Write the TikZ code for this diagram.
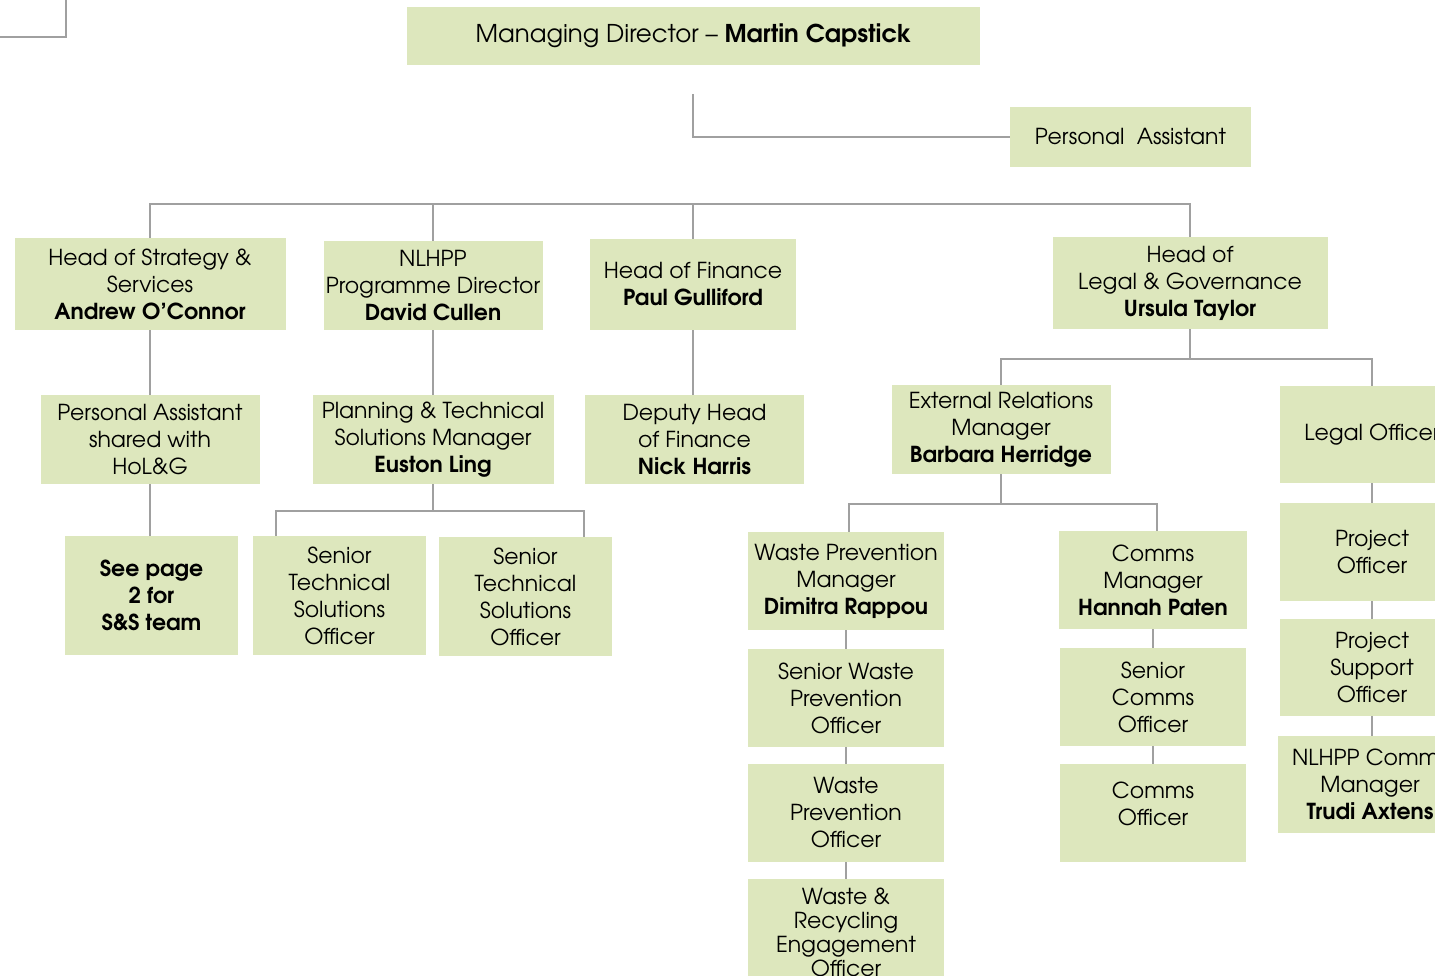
\documentclass[tikz,border=0pt]{standalone}
\usepackage{fontspec}
\IfFontExistsTF{TeX Gyre Adventor}{\setmainfont{TeX Gyre Adventor}}{\setmainfont{Poppins}}
\usetikzlibrary{backgrounds}
\definecolor{boxfill}{RGB}{221,231,189}
\definecolor{linegray}{RGB}{160,160,160}
\begin{document}
\begin{tikzpicture}[x=1pt,y=-1pt,
  box/.style={fill=boxfill, inner sep=0pt, align=center, font=\fontsize{22}{27}\selectfont},
  bx/.style 2 args={minimum width=#1, minimum height=#2},
  conn/.style={draw=linegray, line width=1.3pt}]
\useasboundingbox (0,0) rectangle (1435,976);
\clip (0,0) rectangle (1435,976);
\draw[linegray, line width=1.2pt] (0,37) -- (66,37) -- (66,0);
% level 0
\node[box, bx={573pt}{58pt}, font=\fontsize{24.5}{29}\selectfont] (md) at (693.5,36) {Managing Director -- \textbf{Martin Capstick}};
\node[box, bx={241pt}{60pt}] (pa) at (1130.5,137) {Personal\ \ Assistant};
% level 1
\node[box, bx={271pt}{92pt}] (hs) at (150,284) {Head of Strategy \&\\Services\\\textbf{Andrew O'Connor}};
\node[box, bx={219pt}{89pt}] (nl) at (433,285.5) {NLHPP\\Programme Director\\\textbf{David Cullen}};
\node[box, bx={206pt}{91pt}] (fin) at (693,284.5) {Head of Finance\\\textbf{Paul Gulliford}};
\node[box, bx={275pt}{92pt}] (lg) at (1190,283) {Head of\\Legal \& Governance\\\textbf{Ursula Taylor}};
% level 2
\node[box, bx={219pt}{89pt}] (pas) at (150,439.5) {Personal Assistant\\shared with\\HoL\&G};
\node[box, bx={241pt}{89pt}] (ptm) at (433,439.5) {Planning \& Technical\\Solutions Manager\\\textbf{Euston Ling}};
\node[box, bx={219pt}{89pt}] (dh) at (694.5,439.5) {Deputy Head\\of Finance\\\textbf{Nick Harris}};
\node[box, bx={219pt}{89pt}] (erm) at (1001,429.5) {External Relations\\Manager\\\textbf{Barbara Herridge}};
\node[box, bx={184pt}{97pt}] (lo) at (1372,434.5) {Legal Officer};
% level 3
\node[box, bx={173pt}{119pt}] (see) at (151.5,595.5) {\textbf{See page}\\\textbf{2 for}\\\textbf{S\&S team}};
\node[box, bx={173pt}{119pt}] (sts1) at (339.5,595.5) {Senior\\Technical\\Solutions\\Officer};
\node[box, bx={173pt}{119pt}] (sts2) at (525.5,596.5) {Senior\\Technical\\Solutions\\Officer};
\node[box, bx={196pt}{98pt}] (wpm) at (846,581) {Waste Prevention\\Manager\\\textbf{Dimitra Rappou}};
\node[box, bx={188pt}{98pt}] (cm) at (1153,580) {Comms\\Manager\\\textbf{Hannah Paten}};
\node[box, bx={196pt}{98pt}] (swpo) at (846,698) {Senior Waste\\Prevention\\Officer};
\node[box, bx={196pt}{98pt}] (wpo) at (846,813) {Waste\\Prevention\\Officer};
\node[box, bx={196pt}{106pt}, font=\fontsize{22}{24}\selectfont] (wreo) at (846,932) {Waste \&\\Recycling\\Engagement\\Officer};
\node[box, bx={186pt}{98pt}] (sco) at (1153,697) {Senior\\Comms\\Officer};
\node[box, bx={186pt}{98pt}] (co) at (1153,813) {Comms\\Officer\\[-8pt]};
\node[box, bx={184pt}{98pt}] (po) at (1372,552) {Project\\Officer};
\node[box, bx={184pt}{97pt}] (pso) at (1372,667.5) {Project\\Support\\Officer};
\node[box, bx={184pt}{97pt}] (nc) at (1370,784.5) {NLHPP Comms\\Manager\\\textbf{Trudi Axtens}};
% connectors
\coordinate (mdstub) at (693,94);
\coordinate (bus1) at (693,204);
\coordinate (bus2) at (433,511);
\coordinate (bus3) at (1190,359);
\coordinate (bus4) at (1001,504);
\begin{scope}[on background layer]
\draw[conn] (mdstub) |- (pa);
\draw[conn] (hs) |- (bus1) -| (lg);
\draw[conn] (nl) -- (nl |- bus1);
\draw[conn] (fin) -- (fin |- bus1);
\draw[conn] (hs) -- (hs |- pas.north);
\draw[conn] (pas) -- (pas |- see.north);
\draw[conn] (nl) -- (nl |- ptm.north);
\draw[conn] (fin) -- (fin |- dh.north);
\draw[conn] (ptm) -- (bus2);
\draw[conn] ([xshift=-63.5pt]sts1.north) |- (bus2) -| ([xshift=58.5pt]sts2.north);
\draw[conn] (lg) -- (bus3);
\draw[conn] (erm) |- (bus3) -| (lo);
\draw[conn] (erm) -- (bus4);
\draw[conn] ([xshift=3pt]wpm.north) |- (bus4) -| ([xshift=4pt]cm.north);
\draw[conn] (wpm) -- (swpo) -- (wpo) -- (wreo);
\draw[conn] (cm) -- (sco) -- (co);
\draw[conn] (lo) -- (po) -- (pso) -- (lo |- nc.north);
\end{scope}
\end{tikzpicture}
\end{document}
